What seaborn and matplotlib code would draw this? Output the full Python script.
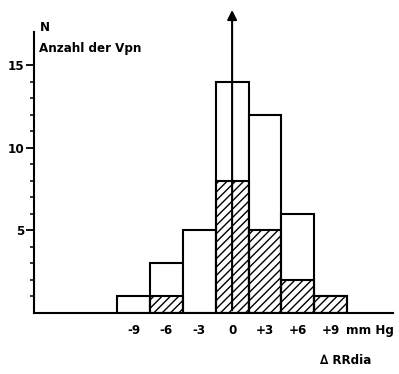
import matplotlib
matplotlib.use("Agg")
import matplotlib.pyplot as plt
import seaborn as sns
import numpy as np
import pandas as pd

# data
bin_centers = [-9, -6, -3, 0, 3, 6, 9]
total_counts = [1, 3, 5, 14, 12, 6, 1]
hatched_counts = [0, 1, 0, 8, 5, 2, 1]
x_tick_labels = ["-9", "-6", "-3", "0", "+3", "+6", "+9"]
y_major = [5, 10, 15]

df = pd.DataFrame({"x": bin_centers, "total": total_counts, "hatched": hatched_counts})

sns.set_style("white")
plt.rcParams["font.family"] = ["DejaVu Sans"]
plt.rcParams["font.stretch"] = "condensed"
plt.rcParams["text.color"] = "black"
plt.rcParams["hatch.linewidth"] = 1.0
plt.rcParams["hatch.color"] = "black"

fig = plt.figure(figsize=(3.99, 3.74), dpi=100)
ax = fig.add_axes([34/399, (374-313)/374, 359/399, 281/374])

edges = [float(e) for e in np.arange(-10.5, 10.6, 3)]
sns.histplot(data=df, x="x", weights="total", bins=edges, ax=ax,
             fill=True, color="white", edgecolor="black", linewidth=1.5, alpha=1)
n_before = len(ax.patches)
sns.histplot(data=df, x="x", weights="hatched", bins=edges, ax=ax,
             fill=False, color="black", edgecolor="black", linewidth=1.5)
for p in ax.patches[n_before:]:
    p.set_hatch("////")
    p.set_edgecolor("black")
    if p.get_height() == 0:
        p.set_visible(False)

ax.set_xlim(-18.1, 14.7)
ax.set_ylim(0, 17)
for s in ["top", "right"]:
    ax.spines[s].set_visible(False)
for s in ["left", "bottom"]:
    ax.spines[s].set_linewidth(1.5)
    ax.spines[s].set_color("black")
ax.set_xlabel("")
ax.set_ylabel("")

ax.set_yticks(y_major)
ax.set_yticklabels([str(v) for v in y_major], fontsize=9.5, fontweight="bold")
ax.set_yticks([v for v in range(1, 15) if v not in y_major], minor=True)
ax.tick_params(axis="y", which="major", direction="out", length=6, width=1.3, left=True, pad=1,
               color="black", labelcolor="black")
ax.tick_params(axis="y", which="minor", direction="out", length=3, width=1.1, left=True, color="black")
ax.set_xticks([])

fs = 9.5
for c, lab in zip(bin_centers, x_tick_labels):
    ax.text(c, -1.05, lab, ha="center", va="center", fontsize=fs, fontweight="bold")
ax.text(10.4, -1.05, "mm Hg", ha="left", va="center", fontsize=fs, fontweight="bold")
ax.text(8.0, -2.85, "∆ RRdia", ha="left", va="center", fontsize=fs, fontweight="bold")

ax.text(-17.6, 17.25, "N", ha="left", va="center", fontsize=fs, fontweight="bold", clip_on=False)
ax.text(-17.6, 16.0, "Anzahl der Vpn", ha="left", va="center", fontsize=fs, fontweight="bold")

ax.annotate("", xy=(0, 18.5), xytext=(0, 0),
            arrowprops=dict(arrowstyle="-|>", color="black", lw=1.5, mutation_scale=14),
            annotation_clip=False)

fig.savefig("out.png", dpi=100)
